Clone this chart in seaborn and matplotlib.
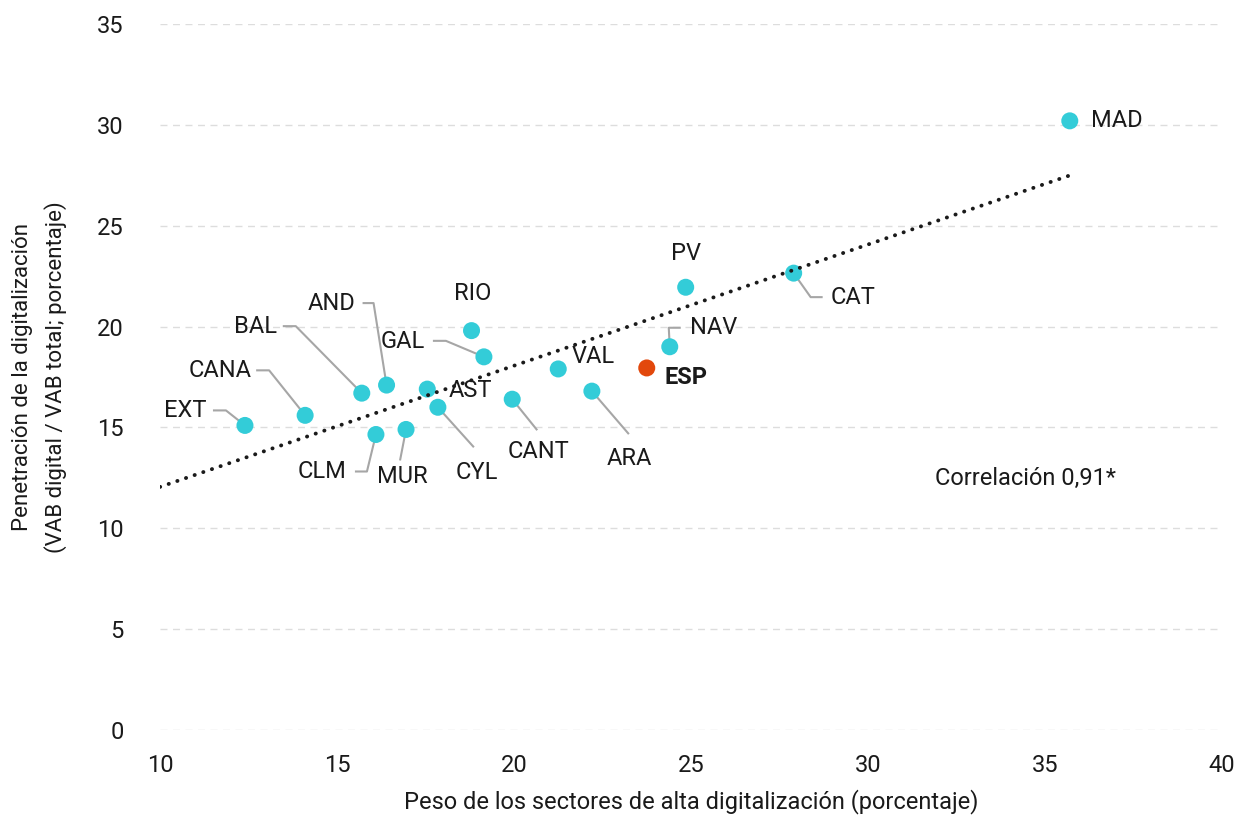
import numpy as np
import pandas as pd
import matplotlib
matplotlib.use("Agg")
import matplotlib.pyplot as plt
import seaborn as sns

# Regional data
regions = ["MAD", "CAT", "PV", "NAV", "ESP", "ARA", "VAL", "CANT", "GAL", "RIO",
           "CYL", "AST", "MUR", "CLM", "AND", "BAL", "CANA", "EXT"]
peso_sectores = [35.7, 27.9, 24.85, 24.4, 23.75, 22.2, 21.25, 19.95, 19.15, 18.8,
                 17.85, 17.55, 16.95, 16.1, 16.4, 15.7, 14.1, 12.4]
penetracion = [30.2, 22.65, 21.95, 19.0, 17.95, 16.8, 17.9, 16.4, 18.5, 19.8,
               16.0, 16.9, 14.9, 14.65, 17.1, 16.7, 15.6, 15.1]
correlacion_txt = "Correlación 0,91*"

TEAL = "#33CCD8"
ORANGE = "#E2480C"
LEADER = "#A6A6A6"

# label layout: (text offset px, ha, leader vertices in px offsets from point)
# screen offsets: +x right, +y down
LAYOUT = {
    "MAD": ((21, 0), "left", []),
    "CAT": ((37, 24), "left", [(17, 24), (29, 24)]),
    "PV": ((0, -34), "center", []),
    "NAV": ((20, -19), "left", [(-1, -19), (11, -19)]),
    "ESP": ((18, 10), "left", []),
    "ARA": ((37, 67), "center", [(37, 43)]),
    "VAL": ((13, -12), "left", []),
    "CANT": ((26, 52), "center", [(25, 31)]),
    "GAL": ((-59, -15), "right", [(-38, -16), (-51, -16)]),
    "RIO": ((1, -37), "center", []),
    "CYL": ((39, 65), "center", [(36, 40)]),
    "AST": ((21, 1), "left", []),
    "MUR": ((-4, 47), "center", [(-6, 31)]),
    "CLM": ((-29, 37), "right", [(-9, 37), (-21, 37)]),
    "AND": ((-31, -82), "right", [(-13, -82), (-24, -82)]),
    "BAL": ((-85, -67), "right", [(-66, -67), (-79, -67)]),
    "CANA": ((-54, -45), "right", [(-36, -45), (-49, -45)]),
    "EXT": ((-38, -15), "right", [(-19, -15), (-32, -15)]),
}

df = pd.DataFrame({"region": regions, "x": peso_sectores, "y": penetracion})
df["grupo"] = np.where(df["region"] == "ESP", "ESP", "CCAA")

sns.set_theme(style="white")
plt.rcParams["font.family"] = ["Roboto", "DejaVu Sans"]

fig = plt.figure(figsize=(12.5, 8.23), dpi=100)
ax = fig.add_axes([0.128, 0.113, 0.8496, 0.8578])
ax.set_xlim(10, 40)
ax.set_ylim(0, 35)

# trend line over all points
slope, intercept = np.polyfit(df["x"], df["y"], 1)
xs = np.array([10, df["x"].max()])
ax.plot(xs, intercept + slope * xs, color="#1a1a1a", lw=2.8,
        linestyle=(0, (0.05, 2.3)), dash_capstyle="round", zorder=4)

sns.scatterplot(data=df, x="x", y="y", hue="grupo",
                palette={"CCAA": TEAL, "ESP": ORANGE},
                s=150, linewidth=0, legend=False, ax=ax, zorder=3)

# labels and leader lines
to_disp = ax.transData
inv = ax.transData.inverted()
for reg_name, xv, yv in zip(regions, peso_sectores, penetracion):
    (tdx, tdy), ha, verts = LAYOUT[reg_name]
    px, py = to_disp.transform((xv, yv))
    if verts:
        pts = [(px, py)] + [(px + dx, py - dy) for dx, dy in verts]
        dpts = inv.transform(np.array(pts))
        ax.plot(dpts[:, 0], dpts[:, 1], color=LEADER, lw=1.5, zorder=2,
                solid_capstyle="butt")
    tx, ty = inv.transform((px + tdx, py - tdy))
    ax.text(tx, ty, reg_name, ha=ha, va="center", fontsize=17,
            color="#1a1a1a", fontweight="bold" if reg_name == "ESP" else "normal",
            zorder=5)

ax.text(0.815, 0.357, correlacion_txt, transform=ax.transAxes, ha="center",
        va="center", fontsize=17, color="#1a1a1a")

ax.set_xticks(range(10, 41, 5))
ax.set_yticks(range(0, 36, 5))
ax.tick_params(axis="both", length=0, labelsize=17, colors="#1a1a1a")
ax.tick_params(axis="x", pad=17)
ax.tick_params(axis="y", pad=26)
for lbl in ax.get_yticklabels():
    lbl.set_horizontalalignment("right")
ax.yaxis.grid(True, color="#DDDDDD", linestyle=(0, (5, 4)), lw=1)
ax.set_axisbelow(True)
sns.despine(ax=ax, left=True, bottom=True)

ax.set_xlabel("Peso de los sectores de alta digitalización (porcentaje)",
              fontsize=17, color="#1a1a1a", labelpad=9)
ax.set_ylabel("Penetración de la digitalización\n(VAB digital / VAB total; porcentaje)",
              fontsize=16, color="#1a1a1a", labelpad=22, linespacing=1.6)

fig.savefig("out.png", dpi=100)
